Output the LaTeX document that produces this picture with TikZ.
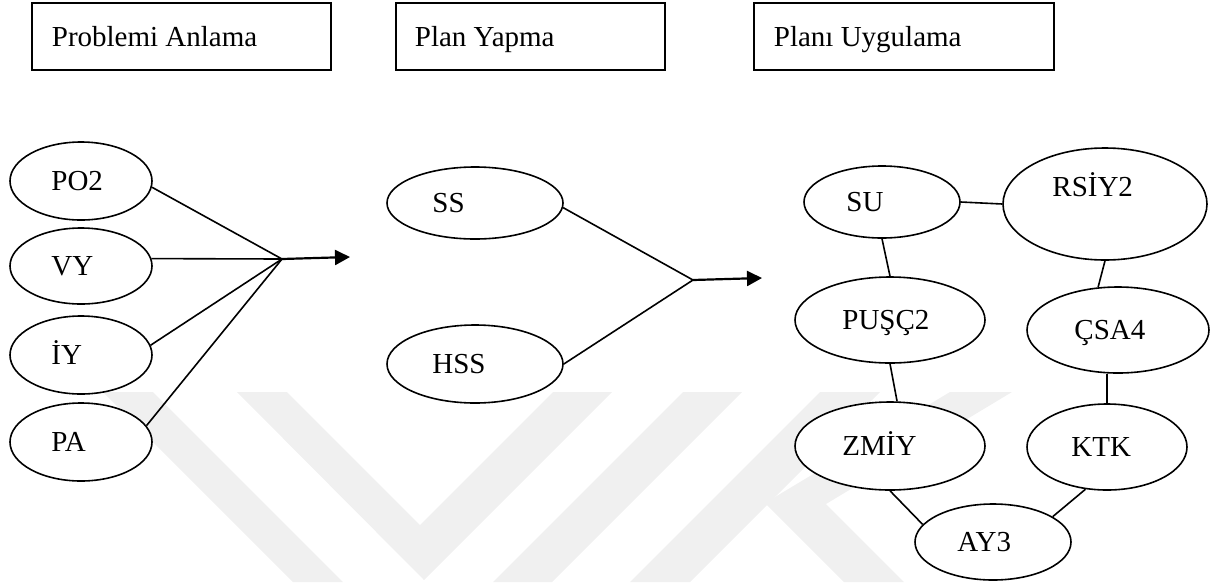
\documentclass[tikz,border=0pt]{standalone}
\usepackage{fontspec}
\setmainfont{Liberation Serif}
\usetikzlibrary{shapes.geometric,arrows.meta}
\definecolor{wmark}{gray}{0.94}
\begin{document}
\begin{tikzpicture}[x=1pt,y=-1pt,
  every node/.style={font=\fontsize{29}{34}\selectfont},
  oval/.style={ellipse, draw, line width=1.6pt, fill=white, inner sep=0pt},
  phase/.style={rectangle, draw, line width=2.6pt, inner sep=0pt},
  lbl/.style={anchor=base west, inner sep=0pt},
  link/.style={line width=1.6pt},
  flow/.style={line width=2.2pt, -{Triangle[length=15pt,width=15pt]}}]

\useasboundingbox (0,0) rectangle (1210,582);

% faint background emblem
\fill[wmark] (103,392) -- (153,392) -- (343,582) -- (293,582) -- cycle;
\fill[wmark] (237,392) -- (287,392) -- (420,525) -- (553,392) -- (612,392) -- (424,580) -- cycle;
\fill[wmark] (683,392) -- (742,392) -- (552,582) -- (493,582) -- cycle;
\fill[wmark] (820,392) -- (880,392) -- (690,582) -- (630,582) -- cycle;
\fill[wmark] (950,392) -- (1012,392) -- (826,504) -- (904,582) -- (844,582) -- (765,503) -- cycle;

% phase headers
\node[phase, minimum width=299pt, minimum height=67pt] (h1) at (181.5,36.5) {};
\node[lbl] (h1-t) at ([xshift=21pt,yshift=-9.5pt]h1.west) {Problemi Anlama};
\node[phase, minimum width=269pt, minimum height=67pt] (h2) at (530.5,36.5) {};
\node[lbl] (h2-t) at ([xshift=20pt,yshift=-9.5pt]h2.west) {Plan Yapma};
\node[phase, minimum width=300pt, minimum height=67pt] (h3) at (904,36.5) {};
\node[lbl] (h3-t) at ([xshift=21pt,yshift=-9.5pt]h3.west) {Planı Uygulama};

% understanding the problem
\node[oval, minimum width=142pt, minimum height=78pt] (po2) at (81,181) {};
\node[lbl] (po2-t) at ([xshift=42pt,yshift=-9.5pt]po2.west) {PO2};
\node[oval, minimum width=142pt, minimum height=76pt] (vy) at (81,266) {};
\node[lbl] (vy-t) at ([xshift=42pt,yshift=-9.5pt]vy.west) {VY};
\node[oval, minimum width=142pt, minimum height=78pt] (iy) at (81,355) {};
\node[lbl] (iy-t) at ([xshift=42pt,yshift=-9.5pt]iy.west) {İY};
\node[oval, minimum width=142pt, minimum height=78pt] (pa) at (81,442) {};
\node[lbl] (pa-t) at ([xshift=42pt,yshift=-9.5pt]pa.west) {PA};

\coordinate (j1) at (282,259);
\coordinate (a1) at (350,257);
\draw[link] (po2.-5) -- (j1);
\draw[link] (vy.6) -- (j1);
\draw[link] (iy.8) -- (j1);
\draw[link] (pa.14) -- (j1);
\draw[flow] (j1) -- (a1);

% making a plan
\node[oval, minimum width=176pt, minimum height=72pt] (ss) at (475,203) {};
\node[lbl] (ss-t) at ([xshift=46pt,yshift=-9.5pt]ss.west) {SS};
\node[oval, minimum width=176pt, minimum height=78pt] (hss) at (475,364) {};
\node[lbl] (hss-t) at ([xshift=46pt,yshift=-9.5pt]hss.west) {HSS};

\coordinate (j2) at (693,280);
\coordinate (a2) at (762,278);
\draw[link] (ss.-3) -- (j2);
\draw[link] (hss.east) -- (j2);
\draw[flow] (j2) -- (a2);

% carrying out the plan
\node[oval, minimum width=156pt, minimum height=72pt] (su) at (882,202) {};
\node[lbl] (su-t) at ([xshift=43pt,yshift=-9.5pt]su.west) {SU};
\node[oval, minimum width=204pt, minimum height=112pt] (rs) at (1105,204) {};
\node[lbl] (rs-t) at ([xshift=50pt,yshift=7.5pt]rs.west) {RSİY2};
\node[oval, minimum width=190pt, minimum height=86pt] (pu) at (890,320) {};
\node[lbl] (pu-t) at ([xshift=48pt,yshift=-9.5pt]pu.west) {PUŞÇ2};
\node[oval, minimum width=182pt, minimum height=86pt] (cs) at (1118,330) {};
\node[lbl] (cs-t) at ([xshift=48pt,yshift=-9.5pt]cs.west) {ÇSA4};
\node[oval, minimum width=190pt, minimum height=88pt] (zm) at (890,446) {};
\node[lbl] (zm-t) at ([xshift=48pt,yshift=-9.5pt]zm.west) {ZMİY};
\node[oval, minimum width=160pt, minimum height=86pt] (kt) at (1107,447) {};
\node[lbl] (kt-t) at ([xshift=45pt,yshift=-9.5pt]kt.west) {KTK};
\node[oval, minimum width=156pt, minimum height=76pt] (ay) at (993,542) {};
\node[lbl] (ay-t) at ([xshift=43pt,yshift=-9.5pt]ay.west) {AY3};

\draw[link] (su.east) -- (rs.west);
\draw[link] (su.south) -- (pu.north);
\draw[link] (pu.south) -- (zm.81);
\draw[link] (rs.south) -- (cs.115);
\draw[link] (kt.north) -- (kt.north |- cs.south);
\draw[link] (zm.south) -- (ay.166);
\draw[link] (kt.243) -- (ay.23);
\end{tikzpicture}
\end{document}
